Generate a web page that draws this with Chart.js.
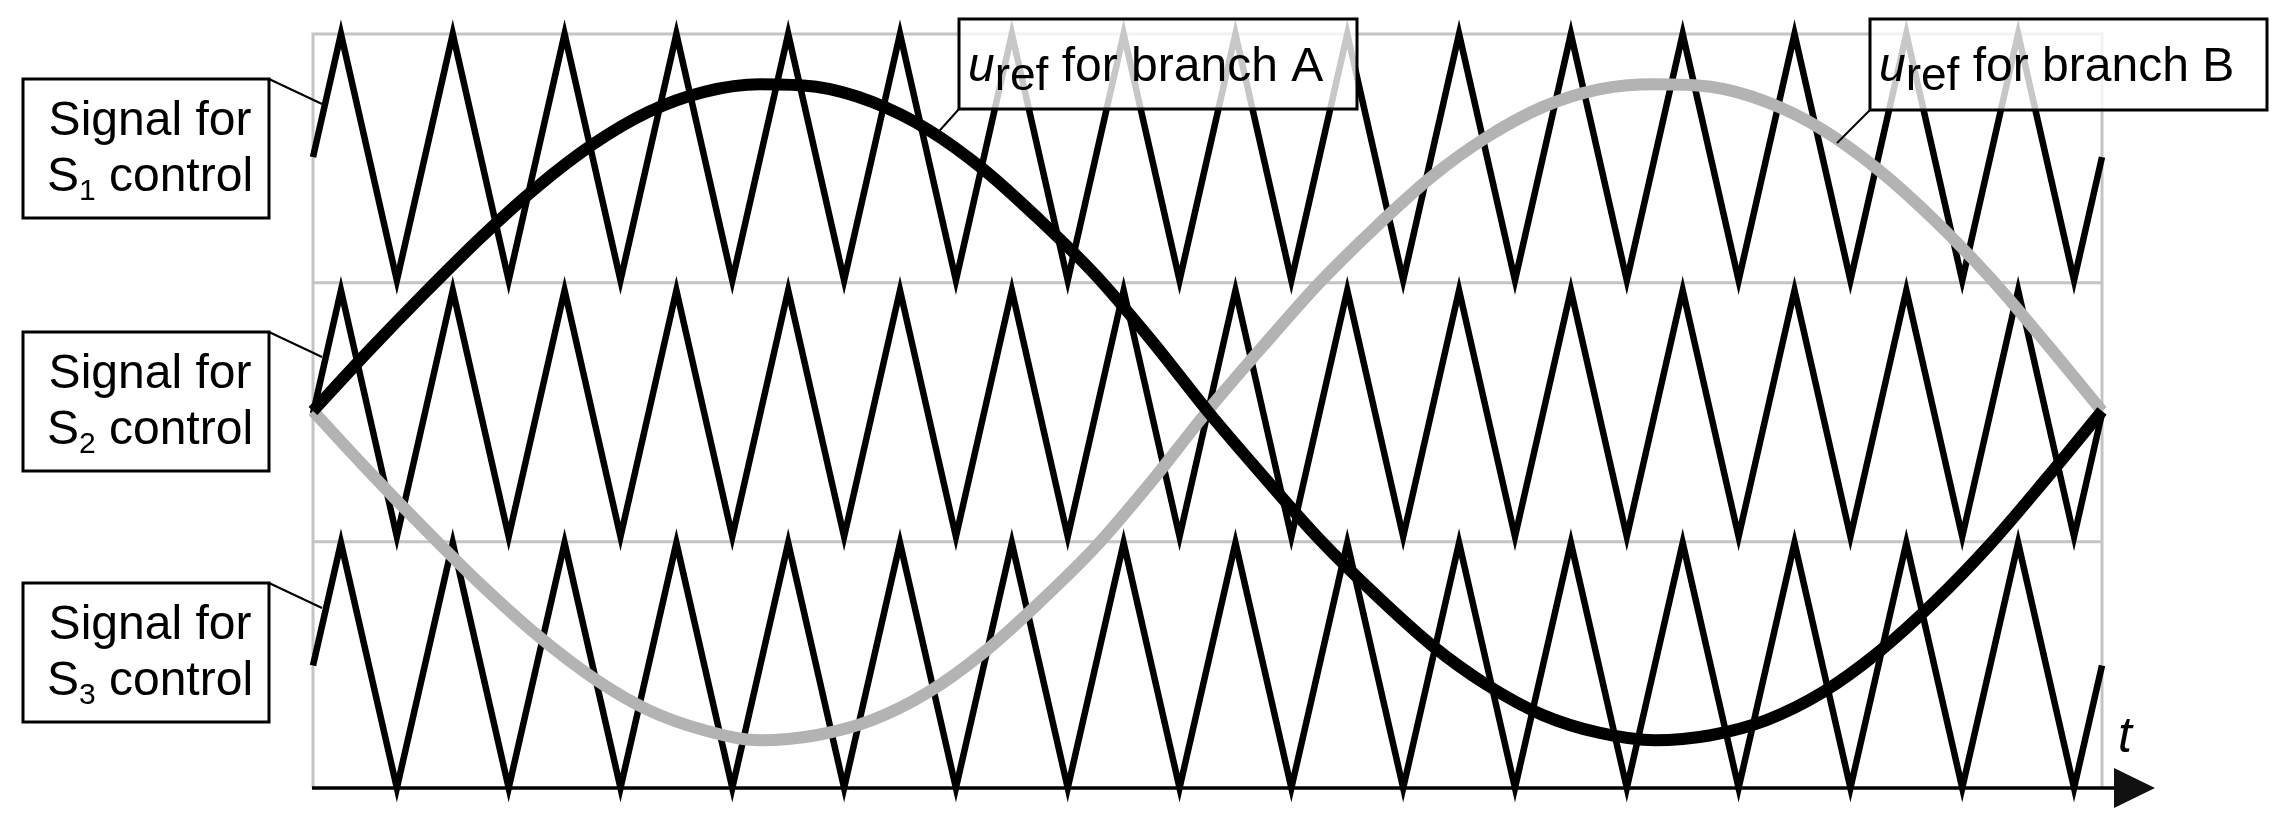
<!DOCTYPE html>
<html>
<head>
<meta charset="utf-8">
<script src="https://cdn.jsdelivr.net/npm/chart.js@4.4.1/dist/chart.umd.min.js"></script>
<style>
  html, body { margin: 0; padding: 0; background: #fff; }
  #wrap { width: 2289px; height: 824px; }
</style>
</head>
<body>
<div id="wrap"><canvas id="chart" width="2289" height="824"></canvas></div>
<script>
// carrier vertices: time in carrier periods, level 0..1 inside its band
const carrierTimes = [0, 0.25, 0.75, 1.25, 1.75, 2.25, 2.75, 3.25, 3.75, 4.25, 4.75, 5.25, 5.75, 6.25, 6.75, 7.25, 7.75,
  8.25, 8.75, 9.25, 9.75, 10.25, 10.75, 11.25, 11.75, 12.25, 12.75, 13.25, 13.75, 14.25, 14.75, 15.25, 15.75, 16];
const carrierLevels = [0.5, 1, 0, 1, 0, 1, 0, 1, 0, 1, 0, 1, 0, 1, 0, 1, 0,
  1, 0, 1, 0, 1, 0, 1, 0, 1, 0, 1, 0, 1, 0, 1, 0, 0.5];

// bands for S1, S2, S3 (top to bottom)
const bandLow = [2.02, 1.0, 0.0];
const bandHigh = [3.0, 1.98, 0.975];
const bandSeparators = [2.01, 0.98];
const bandSubscripts = ["1", "2", "3"];

// reference signals
const refTimes = [0, 0.5, 1, 1.5, 2, 2.5, 3, 3.5, 4, 4.5, 5, 5.5, 6, 6.5, 7, 7.5, 8,
  8.5, 9, 9.5, 10, 10.5, 11, 11.5, 12, 12.5, 13, 13.5, 14, 14.5, 15, 15.5, 16];
const refA = [1.50, 1.74, 1.97, 2.19, 2.39, 2.56, 2.69, 2.77, 2.80, 2.79, 2.73, 2.62, 2.46, 2.26, 2.04, 1.78, 1.50,
  1.24, 0.99, 0.77, 0.57, 0.41, 0.29, 0.22, 0.19, 0.21, 0.27, 0.38, 0.54, 0.74, 0.97, 1.23, 1.50];
const refB = [1.50, 1.26, 1.03, 0.81, 0.61, 0.44, 0.31, 0.23, 0.19, 0.21, 0.27, 0.38, 0.54, 0.74, 0.96, 1.22, 1.50,
  1.76, 2.01, 2.23, 2.43, 2.59, 2.71, 2.78, 2.80, 2.79, 2.73, 2.62, 2.46, 2.26, 2.03, 1.77, 1.50];
const refNames = ["A", "B"];

const FONT = '"Liberation Sans", Arial, sans-serif';

function pts(xs, ys) {
  return xs.map((x, i) => ({ x: x, y: ys[i] }));
}

const carrierSets = bandLow.map((lo, b) => ({
  label: "carrier S" + bandSubscripts[b],
  data: pts(carrierTimes, carrierLevels.map(v => lo + v * (bandHigh[b] - lo))),
  borderColor: "#000",
  borderWidth: 6.5,
  borderJoinStyle: "miter",
  tension: 0,
  clip: false,
  order: 2
}));

// frame, band separators and time axis
const framePlugin = {
  id: "frame",
  beforeDatasetsDraw(chart) {
    const ctx = chart.ctx;
    const x = chart.scales.x, y = chart.scales.y;
    const l = x.getPixelForValue(0), r = x.getPixelForValue(16);
    const t = y.getPixelForValue(3), b = y.getPixelForValue(0);
    ctx.save();
    ctx.strokeStyle = "#c4c4c4";
    ctx.lineWidth = 3;
    ctx.beginPath();
    ctx.moveTo(l, b); ctx.lineTo(l, t); ctx.lineTo(r, t); ctx.lineTo(r, b);
    bandSeparators.forEach(v => {
      const py = y.getPixelForValue(v);
      ctx.moveTo(l, py); ctx.lineTo(r, py);
    });
    ctx.stroke();
    // t axis with arrow
    ctx.strokeStyle = "#000";
    ctx.fillStyle = "#111";
    ctx.lineWidth = 3.5;
    ctx.beginPath();
    ctx.moveTo(l - 1, b); ctx.lineTo(r + 14, b);
    ctx.stroke();
    ctx.beginPath();
    ctx.moveTo(r + 12, b - 20); ctx.lineTo(r + 53, b); ctx.lineTo(r + 12, b + 20);
    ctx.closePath();
    ctx.fill();
    ctx.font = "italic 50px " + FONT;
    ctx.fillStyle = "#000";
    ctx.textBaseline = "alphabetic";
    ctx.fillText("t", r + 16, b - 36);
    ctx.restore();
  }
};

// callout boxes
const labelPlugin = {
  id: "labels",
  afterDatasetsDraw(chart) {
    const ctx = chart.ctx;
    ctx.save();
    ctx.textBaseline = "alphabetic";
    ctx.fillStyle = "#000";

    // left boxes: Signal for S_k control
    const boxTops = [79, 332, 583];
    boxTops.forEach((top, i) => {
      ctx.lineWidth = 2;
      ctx.strokeStyle = "#000";
      ctx.beginPath();
      ctx.moveTo(269, top); ctx.lineTo(322, top + 25);
      ctx.stroke();
      ctx.fillStyle = "#fff";
      ctx.fillRect(23, top, 246, 139);
      ctx.lineWidth = 3;
      ctx.strokeRect(23, top, 246, 139);
      ctx.fillStyle = "#000";
      ctx.font = "48px " + FONT;
      const w1 = ctx.measureText("Signal for").width;
      ctx.fillText("Signal for", 150 - w1 / 2, top + 56);
      const wS = ctx.measureText("S").width;
      const wC = ctx.measureText(" control").width;
      ctx.font = "30px " + FONT;
      const wSub = ctx.measureText(bandSubscripts[i]).width;
      let x0 = 150 - (wS + wSub + wC) / 2;
      ctx.font = "48px " + FONT;
      ctx.fillText("S", x0, top + 112);
      ctx.font = "30px " + FONT;
      ctx.fillText(bandSubscripts[i], x0 + wS, top + 121);
      ctx.font = "48px " + FONT;
      ctx.fillText(" control", x0 + wS + wSub, top + 112);
    });

    // top boxes: u_ref for branch A / B
    const refBoxes = [
      { x: 959, y: 19, w: 398, h: 90, lx: 933, ly: 138 },
      { x: 1870, y: 19, w: 397, h: 91, lx: 1837, ly: 143 }
    ];
    refBoxes.forEach((bx, i) => {
      ctx.lineWidth = 2;
      ctx.strokeStyle = "#000";
      ctx.beginPath();
      ctx.moveTo(bx.x, bx.y + bx.h); ctx.lineTo(bx.lx, bx.ly);
      ctx.stroke();
      ctx.fillStyle = "rgba(255,255,255,0.78)";
      ctx.fillRect(bx.x, bx.y, bx.w, bx.h);
      ctx.lineWidth = 3;
      ctx.strokeRect(bx.x, bx.y, bx.w, bx.h);
      ctx.fillStyle = "#000";
      let x0 = bx.x + 9;
      ctx.font = "italic 48px " + FONT;
      ctx.fillText("u", x0, 81);
      x0 += ctx.measureText("u").width;
      ctx.font = "46px " + FONT;
      ctx.fillText("ref", x0, 90);
      x0 += ctx.measureText("ref").width;
      ctx.font = "48px " + FONT;
      ctx.fillText(" for branch " + refNames[i], x0, 81);
    });
    ctx.restore();
  }
};

new Chart(document.getElementById("chart"), {
  type: "line",
  data: {
    datasets: [
      {
        label: "uref A",
        data: pts(refTimes, refA),
        borderColor: "#000",
        borderWidth: 12,
        tension: 0.4,
        cubicInterpolationMode: "monotone",
        clip: false,
        order: 0
      },
      {
        label: "uref B",
        data: pts(refTimes, refB),
        borderColor: "#b3b3b3",
        borderWidth: 12,
        tension: 0.4,
        cubicInterpolationMode: "monotone",
        clip: false,
        order: 1
      },
      ...carrierSets
    ]
  },
  options: {
    responsive: false,
    animation: false,
    devicePixelRatio: 1,
    layout: { padding: { left: 313, right: 187, top: 34, bottom: 36 } },
    elements: { point: { radius: 0, hoverRadius: 0 } },
    scales: {
      x: { type: "linear", min: 0, max: 16, display: false },
      y: { type: "linear", min: 0, max: 3, display: false }
    },
    plugins: {
      legend: { display: false },
      tooltip: { enabled: false }
    }
  },
  plugins: [framePlugin, labelPlugin]
});
</script>
</body>
</html>
